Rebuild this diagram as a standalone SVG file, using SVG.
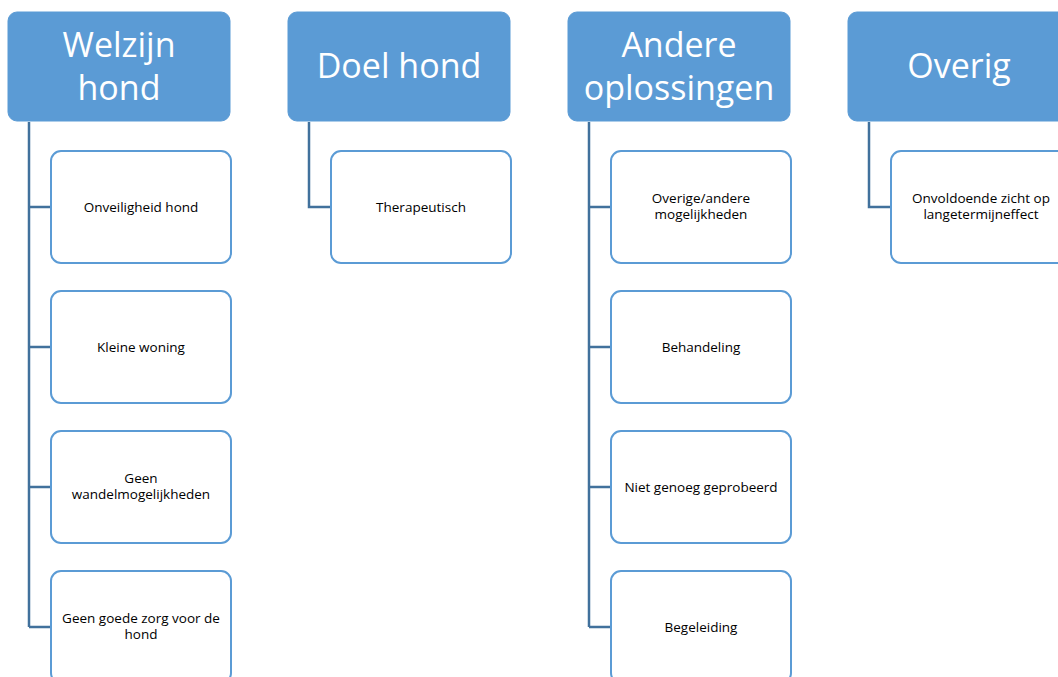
<svg xmlns="http://www.w3.org/2000/svg" width="1058" height="677" viewBox="0 0 1058 677">
<style>
.hdr{fill:#5B9BD5;stroke:#5B9BD5;stroke-width:1}
.ht{fill:#fff;font-family:"Open Sans","Liberation Sans",sans-serif;font-size:34px;text-anchor:middle}
.ch{fill:#fff;stroke:#5B9BD5;stroke-width:2}
.ct{fill:#000;font-family:"Open Sans","Liberation Sans",sans-serif;font-size:13.5px;text-anchor:middle}
.con{fill:none;stroke:#41719C;stroke-width:2.5}
</style>
<rect width="1058" height="677" fill="#fff"/>
<g id="connectors">
<path class="con" d="M29,122 V627 M29,207 H51 M29,347 H51 M29,487 H51 M29,627 H51"/>
<path class="con" d="M309,122 V207 H331"/>
<path class="con" d="M589,122 V627 M589,207 H611 M589,347 H611 M589,487 H611 M589,627 H611"/>
<path class="con" d="M869,122 V207 H891"/>
</g>
<g id="h1"><rect class="hdr" x="8" y="12" width="222" height="109" rx="9"/><text class="ht" x="119" y="57">Welzijn</text><text class="ht" x="119" y="100">hond</text></g>
<g id="h2"><rect class="hdr" x="288" y="12" width="222" height="109" rx="9"/><text class="ht" x="399" y="78">Doel hond</text></g>
<g id="h3"><rect class="hdr" x="568" y="12" width="222" height="109" rx="9"/><text class="ht" x="679" y="57">Andere</text><text class="ht" x="679" y="100">oplossingen</text></g>
<g id="h4"><rect class="hdr" x="848" y="12" width="222" height="109" rx="9"/><text class="ht" x="959" y="78">Overig</text></g>
<g id="c11"><rect class="ch" x="51" y="151" width="180" height="112" rx="10"/><text class="ct" x="141" y="212">Onveiligheid hond</text></g>
<g id="c12"><rect class="ch" x="51" y="291" width="180" height="112" rx="10"/><text class="ct" x="141" y="352">Kleine woning</text></g>
<g id="c13"><rect class="ch" x="51" y="431" width="180" height="112" rx="10"/><text class="ct" x="141" y="483">Geen</text><text class="ct" x="141" y="499">wandelmogelijkheden</text></g>
<g id="c14"><rect class="ch" x="51" y="571" width="180" height="112" rx="10"/><text class="ct" x="141" y="623">Geen goede zorg voor de</text><text class="ct" x="141" y="639">hond</text></g>
<g id="c21"><rect class="ch" x="331" y="151" width="180" height="112" rx="10"/><text class="ct" x="421" y="212">Therapeutisch</text></g>
<g id="c31"><rect class="ch" x="611" y="151" width="180" height="112" rx="10"/><text class="ct" x="701" y="203">Overige/andere</text><text class="ct" x="701" y="219">mogelijkheden</text></g>
<g id="c32"><rect class="ch" x="611" y="291" width="180" height="112" rx="10"/><text class="ct" x="701" y="352">Behandeling</text></g>
<g id="c33"><rect class="ch" x="611" y="431" width="180" height="112" rx="10"/><text class="ct" x="701" y="492">Niet genoeg geprobeerd</text></g>
<g id="c34"><rect class="ch" x="611" y="571" width="180" height="112" rx="10"/><text class="ct" x="701" y="632">Begeleiding</text></g>
<g id="c41"><rect class="ch" x="891" y="151" width="180" height="112" rx="10"/><text class="ct" x="981" y="203">Onvoldoende zicht op</text><text class="ct" x="981" y="219">langetermijneffect</text></g>
</svg>
